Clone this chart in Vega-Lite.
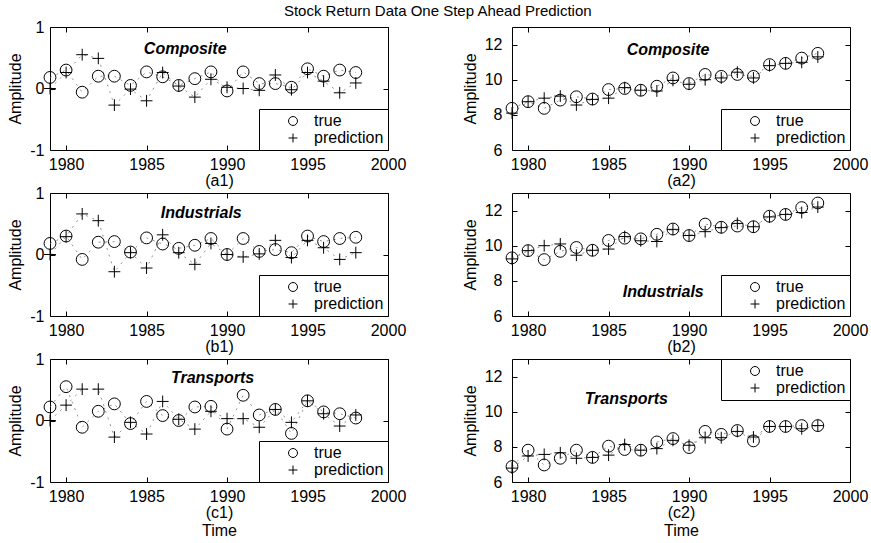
{
"$schema":"https://vega.github.io/schema/vega-lite/v6.json",
"title":{"text":"Stock Return Data One Step Ahead Prediction","anchor":"middle","fontSize":15,"fontWeight":"normal","font":"Liberation Sans","color":"black","offset":0},
"padding":{"left":7,"top":3,"right":5,"bottom":3},
"columns":2,
"spacing":{"row":43,"column":124},
"bounds":"flush",
"datasets":{
"a1":[{"year":1979,"true":0.18,"prediction":0.0},{"year":1980,"true":0.30,"prediction":0.26},{"year":1981,"true":-0.06,"prediction":0.55},{"year":1982,"true":0.20,"prediction":0.49},{"year":1983,"true":0.20,"prediction":-0.27},{"year":1984,"true":0.05,"prediction":-0.01},{"year":1985,"true":0.27,"prediction":-0.20},{"year":1986,"true":0.19,"prediction":0.26},{"year":1987,"true":0.05,"prediction":0.04},{"year":1988,"true":0.16,"prediction":-0.14},{"year":1989,"true":0.27,"prediction":0.15},{"year":1990,"true":-0.04,"prediction":0.02},{"year":1991,"true":0.27,"prediction":0.0},{"year":1992,"true":0.08,"prediction":-0.03},{"year":1993,"true":0.08,"prediction":0.22},{"year":1994,"true":0.02,"prediction":-0.02},{"year":1995,"true":0.32,"prediction":0.26},{"year":1996,"true":0.20,"prediction":0.12},{"year":1997,"true":0.30,"prediction":-0.07},{"year":1998,"true":0.26,"prediction":0.09}],
"a2":[{"year":1979,"true":8.37,"prediction":8.1},{"year":1980,"true":8.75,"prediction":8.75},{"year":1981,"true":8.37,"prediction":8.95},{"year":1982,"true":8.84,"prediction":9.07},{"year":1983,"true":9.03,"prediction":8.56},{"year":1984,"true":8.9,"prediction":8.88},{"year":1985,"true":9.44,"prediction":8.95},{"year":1986,"true":9.5,"prediction":9.55},{"year":1987,"true":9.4,"prediction":9.4},{"year":1988,"true":9.63,"prediction":9.36},{"year":1989,"true":10.1,"prediction":9.96},{"year":1990,"true":9.78,"prediction":9.74},{"year":1991,"true":10.3,"prediction":10.0},{"year":1992,"true":10.19,"prediction":10.1},{"year":1993,"true":10.3,"prediction":10.43},{"year":1994,"true":10.19,"prediction":10.1},{"year":1995,"true":10.86,"prediction":10.8},{"year":1996,"true":10.93,"prediction":10.93},{"year":1997,"true":11.23,"prediction":10.99},{"year":1998,"true":11.5,"prediction":11.3}],
"b1":[{"year":1979,"true":0.18,"prediction":0.0},{"year":1980,"true":0.30,"prediction":0.29},{"year":1981,"true":-0.08,"prediction":0.66},{"year":1982,"true":0.20,"prediction":0.55},{"year":1983,"true":0.21,"prediction":-0.28},{"year":1984,"true":0.04,"prediction":0.03},{"year":1985,"true":0.27,"prediction":-0.22},{"year":1986,"true":0.17,"prediction":0.32},{"year":1987,"true":0.10,"prediction":0.03},{"year":1988,"true":0.15,"prediction":-0.16},{"year":1989,"true":0.26,"prediction":0.18},{"year":1990,"true":0.0,"prediction":0.0},{"year":1991,"true":0.26,"prediction":-0.04},{"year":1992,"true":0.05,"prediction":0.01},{"year":1993,"true":0.08,"prediction":0.23},{"year":1994,"true":0.03,"prediction":-0.05},{"year":1995,"true":0.30,"prediction":0.23},{"year":1996,"true":0.21,"prediction":0.11},{"year":1997,"true":0.26,"prediction":-0.08},{"year":1998,"true":0.28,"prediction":0.03}],
"b2":[{"year":1979,"true":9.31,"prediction":9.25},{"year":1980,"true":9.72,"prediction":9.72},{"year":1981,"true":9.21,"prediction":10.0},{"year":1982,"true":9.68,"prediction":10.1},{"year":1983,"true":9.9,"prediction":9.46},{"year":1984,"true":9.74,"prediction":9.74},{"year":1985,"true":10.3,"prediction":9.81},{"year":1986,"true":10.43,"prediction":10.52},{"year":1987,"true":10.39,"prediction":10.28},{"year":1988,"true":10.65,"prediction":10.24},{"year":1989,"true":10.95,"prediction":10.93},{"year":1990,"true":10.58,"prediction":10.58},{"year":1991,"true":11.23,"prediction":10.8},{"year":1992,"true":11.05,"prediction":11.03},{"year":1993,"true":11.12,"prediction":11.27},{"year":1994,"true":11.08,"prediction":11.08},{"year":1995,"true":11.68,"prediction":11.64},{"year":1996,"true":11.78,"prediction":11.78},{"year":1997,"true":12.17,"prediction":11.89},{"year":1998,"true":12.43,"prediction":12.2}],
"c1":[{"year":1979,"true":0.22,"prediction":0.0},{"year":1980,"true":0.55,"prediction":0.25},{"year":1981,"true":-0.11,"prediction":0.51},{"year":1982,"true":0.15,"prediction":0.51},{"year":1983,"true":0.27,"prediction":-0.27},{"year":1984,"true":-0.05,"prediction":-0.03},{"year":1985,"true":0.31,"prediction":-0.22},{"year":1986,"true":0.08,"prediction":0.31},{"year":1987,"true":0.0,"prediction":0.02},{"year":1988,"true":0.22,"prediction":-0.14},{"year":1989,"true":0.23,"prediction":0.15},{"year":1990,"true":-0.14,"prediction":0.03},{"year":1991,"true":0.41,"prediction":0.03},{"year":1992,"true":0.09,"prediction":-0.11},{"year":1993,"true":0.18,"prediction":0.18},{"year":1994,"true":-0.21,"prediction":-0.03},{"year":1995,"true":0.32,"prediction":0.32},{"year":1996,"true":0.14,"prediction":0.11},{"year":1997,"true":0.11,"prediction":-0.09},{"year":1998,"true":0.04,"prediction":0.09}],
"c2":[{"year":1979,"true":6.88,"prediction":6.79},{"year":1980,"true":7.81,"prediction":7.48},{"year":1981,"true":6.97,"prediction":7.57},{"year":1982,"true":7.35,"prediction":7.66},{"year":1983,"true":7.81,"prediction":7.35},{"year":1984,"true":7.4,"prediction":7.4},{"year":1985,"true":8.04,"prediction":7.53},{"year":1986,"true":7.85,"prediction":8.13},{"year":1987,"true":7.81,"prediction":7.81},{"year":1988,"true":8.28,"prediction":7.9},{"year":1989,"true":8.47,"prediction":8.37},{"year":1990,"true":7.96,"prediction":8.09},{"year":1991,"true":8.88,"prediction":8.52},{"year":1992,"true":8.71,"prediction":8.52},{"year":1993,"true":8.93,"prediction":8.88},{"year":1994,"true":8.34,"prediction":8.56},{"year":1995,"true":9.16,"prediction":9.16},{"year":1996,"true":9.16,"prediction":9.16},{"year":1997,"true":9.21,"prediction":9.03},{"year":1998,"true":9.21,"prediction":9.21}]
},
"concat":[
{"width":338,"height":123,"data":{"name":"a1"},"transform":[{"fold":["true","prediction"],"as":["series","value"]}],
 "layer":[
  {"mark":{"type":"line","strokeDash":[2,5],"strokeWidth":0.8,"color":"#777"},
   "encoding":{"x":{"field":"year","type":"quantitative","scale":{"domain":[1979,2000],"nice":false,"zero":false},"axis":{"orient":"bottom","values":[1980,1985,1990,1995,2000],"format":"d","title":"(a1)"}},
    "y":{"field":"value","type":"quantitative","scale":{"domain":[-1,1],"nice":false,"zero":false},"axis":{"orient":"left","values":[-1,0,1],"labelExpr":"'' + datum.value","title":"Amplitude"}},
    "detail":{"field":"series"}}},
  {"mark":{"type":"point","filled":false,"color":"black","strokeWidth":1,"size":140,"opacity":1},
   "encoding":{"x":{"field":"year","type":"quantitative","axis":{"orient":"top","values":[1980,1985,1990,1995,2000],"labels":false,"title":null}},
    "y":{"field":"value","type":"quantitative","axis":{"orient":"right","values":[-1,0,1],"labels":false,"title":null}},
    "shape":{"field":"series","type":"nominal","scale":{"domain":["true","prediction"],"range":["circle","M-1,0H1M0,-1V1"]},"legend":{"orient":"bottom-right","title":null,"labelExpr":"datum.label + '    '"}}}},
  {"data":{"values":[{"name":"Composite"}]},"mark":{"type":"text","fontStyle":"italic","fontWeight":"bold","fontSize":16,"color":"black"},
   "encoding":{"x":{"datum":1987.4,"type":"quantitative","axis":null},"y":{"datum":0.64,"type":"quantitative","axis":null},"text":{"field":"name"}}}
 ],
 "resolve":{"axis":{"x":"independent","y":"independent"}}},
{"width":338,"height":123,"data":{"name":"a2"},"transform":[{"fold":["true","prediction"],"as":["series","value"]}],
 "layer":[
  {"mark":{"type":"line","strokeDash":[2,5],"strokeWidth":0.8,"color":"#777"},
   "encoding":{"x":{"field":"year","type":"quantitative","scale":{"domain":[1979,2000],"nice":false,"zero":false},"axis":{"orient":"bottom","values":[1980,1985,1990,1995,2000],"format":"d","title":"(a2)"}},
    "y":{"field":"value","type":"quantitative","scale":{"domain":[6,13],"nice":false,"zero":false},"axis":{"orient":"left","values":[6,8,10,12],"labelExpr":"'' + datum.value","title":"Amplitude","labelPadding":15}},
    "detail":{"field":"series"}}},
  {"mark":{"type":"point","filled":false,"color":"black","strokeWidth":1,"size":140,"opacity":1},
   "encoding":{"x":{"field":"year","type":"quantitative","axis":{"orient":"top","values":[1980,1985,1990,1995,2000],"labels":false,"title":null}},
    "y":{"field":"value","type":"quantitative","axis":{"orient":"right","values":[6,8,10,12],"labels":false,"title":null}},
    "shape":{"field":"series","type":"nominal","scale":{"domain":["true","prediction"],"range":["circle","M-1,0H1M0,-1V1"]},"legend":{"orient":"bottom-right","title":null,"labelExpr":"datum.label + '    '"}}}},
  {"data":{"values":[{"name":"Composite"}]},"mark":{"type":"text","fontStyle":"italic","fontWeight":"bold","fontSize":16,"color":"black"},
   "encoding":{"x":{"datum":1988.7,"type":"quantitative","axis":null},"y":{"datum":11.7,"type":"quantitative","axis":null},"text":{"field":"name"}}}
 ],
 "resolve":{"axis":{"x":"independent","y":"independent"}}},
{"width":338,"height":123,"data":{"name":"b1"},"transform":[{"fold":["true","prediction"],"as":["series","value"]}],
 "layer":[
  {"mark":{"type":"line","strokeDash":[2,5],"strokeWidth":0.8,"color":"#777"},
   "encoding":{"x":{"field":"year","type":"quantitative","scale":{"domain":[1979,2000],"nice":false,"zero":false},"axis":{"orient":"bottom","values":[1980,1985,1990,1995,2000],"format":"d","title":"(b1)"}},
    "y":{"field":"value","type":"quantitative","scale":{"domain":[-1,1],"nice":false,"zero":false},"axis":{"orient":"left","values":[-1,0,1],"labelExpr":"'' + datum.value","title":"Amplitude"}},
    "detail":{"field":"series"}}},
  {"mark":{"type":"point","filled":false,"color":"black","strokeWidth":1,"size":140,"opacity":1},
   "encoding":{"x":{"field":"year","type":"quantitative","axis":{"orient":"top","values":[1980,1985,1990,1995,2000],"labels":false,"title":null}},
    "y":{"field":"value","type":"quantitative","axis":{"orient":"right","values":[-1,0,1],"labels":false,"title":null}},
    "shape":{"field":"series","type":"nominal","scale":{"domain":["true","prediction"],"range":["circle","M-1,0H1M0,-1V1"]},"legend":{"orient":"bottom-right","title":null,"labelExpr":"datum.label + '    '"}}}},
  {"data":{"values":[{"name":"Industrials"}]},"mark":{"type":"text","fontStyle":"italic","fontWeight":"bold","fontSize":16,"color":"black"},
   "encoding":{"x":{"datum":1988.4,"type":"quantitative","axis":null},"y":{"datum":0.68,"type":"quantitative","axis":null},"text":{"field":"name"}}}
 ],
 "resolve":{"axis":{"x":"independent","y":"independent"}}},
{"width":338,"height":123,"data":{"name":"b2"},"transform":[{"fold":["true","prediction"],"as":["series","value"]}],
 "layer":[
  {"mark":{"type":"line","strokeDash":[2,5],"strokeWidth":0.8,"color":"#777"},
   "encoding":{"x":{"field":"year","type":"quantitative","scale":{"domain":[1979,2000],"nice":false,"zero":false},"axis":{"orient":"bottom","values":[1980,1985,1990,1995,2000],"format":"d","title":"(b2)"}},
    "y":{"field":"value","type":"quantitative","scale":{"domain":[6,13],"nice":false,"zero":false},"axis":{"orient":"left","values":[6,8,10,12],"labelExpr":"'' + datum.value","title":"Amplitude","labelPadding":15}},
    "detail":{"field":"series"}}},
  {"mark":{"type":"point","filled":false,"color":"black","strokeWidth":1,"size":140,"opacity":1},
   "encoding":{"x":{"field":"year","type":"quantitative","axis":{"orient":"top","values":[1980,1985,1990,1995,2000],"labels":false,"title":null}},
    "y":{"field":"value","type":"quantitative","axis":{"orient":"right","values":[6,8,10,12],"labels":false,"title":null}},
    "shape":{"field":"series","type":"nominal","scale":{"domain":["true","prediction"],"range":["circle","M-1,0H1M0,-1V1"]},"legend":{"orient":"bottom-right","title":null,"labelExpr":"datum.label + '    '"}}}},
  {"data":{"values":[{"name":"Industrials"}]},"mark":{"type":"text","fontStyle":"italic","fontWeight":"bold","fontSize":16,"color":"black"},
   "encoding":{"x":{"datum":1988.4,"type":"quantitative","axis":null},"y":{"datum":7.35,"type":"quantitative","axis":null},"text":{"field":"name"}}}
 ],
 "resolve":{"axis":{"x":"independent","y":"independent"}}},
{"width":338,"height":123,"data":{"name":"c1"},"transform":[{"fold":["true","prediction"],"as":["series","value"]}],
 "layer":[
  {"mark":{"type":"line","strokeDash":[2,5],"strokeWidth":0.8,"color":"#777"},
   "encoding":{"x":{"field":"year","type":"quantitative","scale":{"domain":[1979,2000],"nice":false,"zero":false},"axis":{"orient":"bottom","values":[1980,1985,1990,1995,2000],"format":"d","title":["(c1)","Time"]}},
    "y":{"field":"value","type":"quantitative","scale":{"domain":[-1,1],"nice":false,"zero":false},"axis":{"orient":"left","values":[-1,0,1],"labelExpr":"'' + datum.value","title":"Amplitude"}},
    "detail":{"field":"series"}}},
  {"mark":{"type":"point","filled":false,"color":"black","strokeWidth":1,"size":140,"opacity":1},
   "encoding":{"x":{"field":"year","type":"quantitative","axis":{"orient":"top","values":[1980,1985,1990,1995,2000],"labels":false,"title":null}},
    "y":{"field":"value","type":"quantitative","axis":{"orient":"right","values":[-1,0,1],"labels":false,"title":null}},
    "shape":{"field":"series","type":"nominal","scale":{"domain":["true","prediction"],"range":["circle","M-1,0H1M0,-1V1"]},"legend":{"orient":"bottom-right","title":null,"labelExpr":"datum.label + '    '"}}}},
  {"data":{"values":[{"name":"Transports"}]},"mark":{"type":"text","fontStyle":"italic","fontWeight":"bold","fontSize":16,"color":"black"},
   "encoding":{"x":{"datum":1989.1,"type":"quantitative","axis":null},"y":{"datum":0.69,"type":"quantitative","axis":null},"text":{"field":"name"}}}
 ],
 "resolve":{"axis":{"x":"independent","y":"independent"}}},
{"width":338,"height":123,"data":{"name":"c2"},"transform":[{"fold":["true","prediction"],"as":["series","value"]}],
 "layer":[
  {"mark":{"type":"line","strokeDash":[2,5],"strokeWidth":0.8,"color":"#777"},
   "encoding":{"x":{"field":"year","type":"quantitative","scale":{"domain":[1979,2000],"nice":false,"zero":false},"axis":{"orient":"bottom","values":[1980,1985,1990,1995,2000],"format":"d","title":["(c2)","Time"]}},
    "y":{"field":"value","type":"quantitative","scale":{"domain":[6,13],"nice":false,"zero":false},"axis":{"orient":"left","values":[6,8,10,12],"labelExpr":"'' + datum.value","title":"Amplitude","labelPadding":15}},
    "detail":{"field":"series"}}},
  {"mark":{"type":"point","filled":false,"color":"black","strokeWidth":1,"size":140,"opacity":1},
   "encoding":{"x":{"field":"year","type":"quantitative","axis":{"orient":"top","values":[1980,1985,1990,1995,2000],"labels":false,"title":null}},
    "y":{"field":"value","type":"quantitative","axis":{"orient":"right","values":[6,8,10,12],"labels":false,"title":null}},
    "shape":{"field":"series","type":"nominal","scale":{"domain":["true","prediction"],"range":["circle","M-1,0H1M0,-1V1"]},"legend":{"orient":"top-right","title":null,"labelExpr":"datum.label + '    '"}}}},
  {"data":{"values":[{"name":"Transports"}]},"mark":{"type":"text","fontStyle":"italic","fontWeight":"bold","fontSize":16,"color":"black"},
   "encoding":{"x":{"datum":1986.1,"type":"quantitative","axis":null},"y":{"datum":10.75,"type":"quantitative","axis":null},"text":{"field":"name"}}}
 ],
 "resolve":{"axis":{"x":"independent","y":"independent"}}}
],
"resolve":{"scale":{"shape":"independent"},"legend":{"shape":"independent"}},
"config":{
 "font":"Liberation Sans",
 "view":{"stroke":"black","strokeWidth":1},
 "axis":{"domain":false,"grid":false,"tickColor":"black","tickSize":-5,"labelFontSize":16,"labelColor":"black","titleFontSize":16,"titleFontWeight":"normal","titleColor":"black","labelFont":"Liberation Sans","titleFont":"Liberation Sans","labelFlush":false,"labelOverlap":false},
 "axisX":{"labelPadding":11,"titlePadding":0,"titleLineHeight":18},
 "axisY":{"labelPadding":11,"titlePadding":6},
 "legend":{"offset":0,"fillColor":"white","strokeColor":"black","padding":4,"labelFontSize":16,"labelFont":"Liberation Sans","labelColor":"black","symbolSize":80,"symbolStrokeColor":"black","symbolFillColor":"transparent","symbolStrokeWidth":1,"symbolOffset":22,"labelOffset":13,"rowPadding":1}
}
}
